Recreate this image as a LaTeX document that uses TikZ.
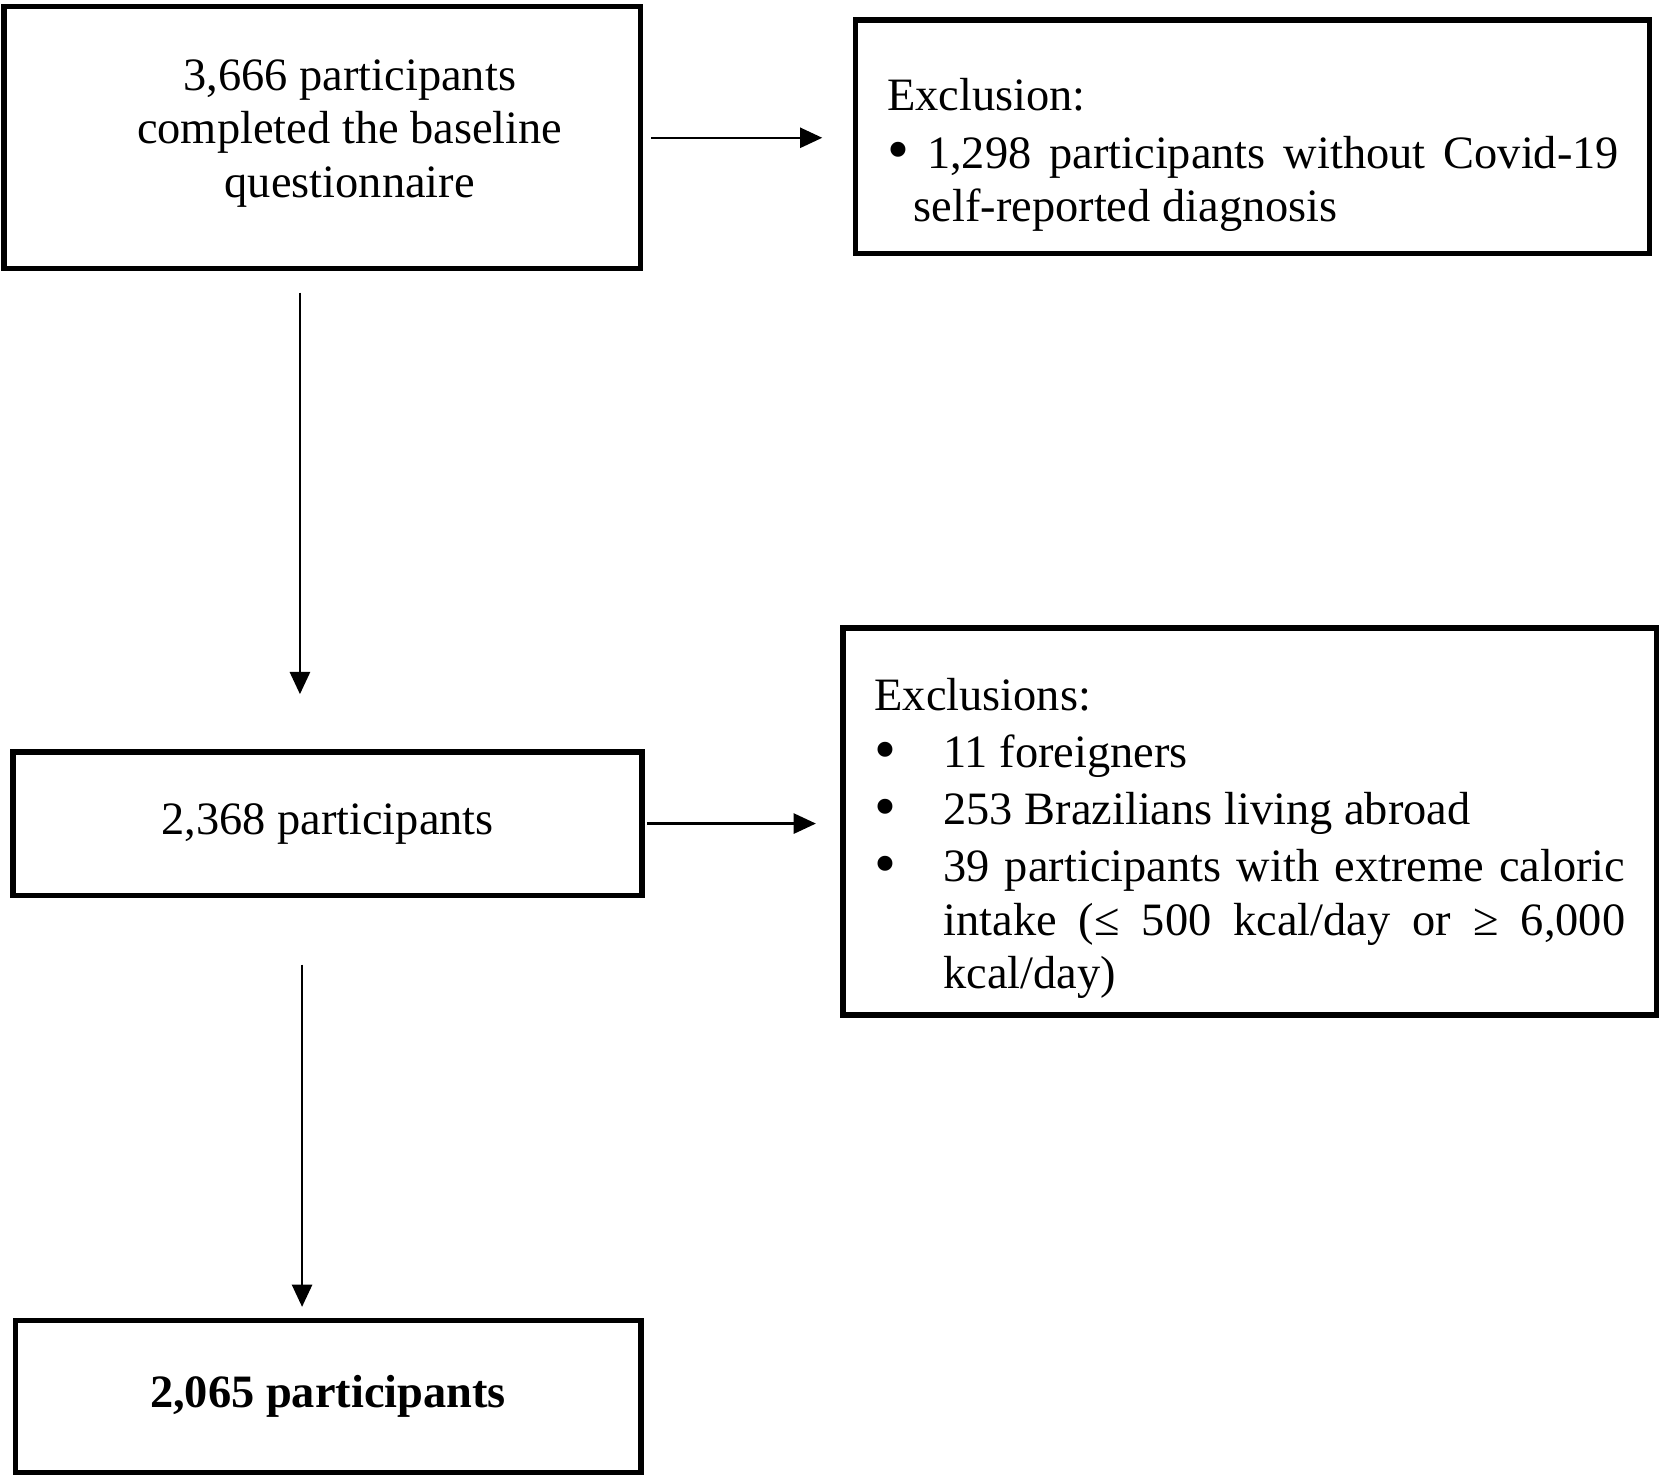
\documentclass[tikz,border=0pt]{standalone}
\usepackage{fontspec}
\setmainfont{Liberation Serif}
\usetikzlibrary{arrows.meta,positioning}

\tikzset{
	every node/.style={font=\fontsize{12.45}{14.23}\selectfont},
	box/.style={draw, line width=1.4pt, inner sep=0pt, outer sep=0pt},
	txt/.style={inner sep=0pt, outer sep=0pt},
	arrw/.style={line width=0.65pt, -{Triangle[length=0.21cm,width=0.19cm]}}
}

% a bullet, one bullet of an exclusion list, and the indent of its next lines
\def\bul{\raisebox{-0.06em}{\scalebox{1.35}{\textbullet}}}
\def\exclitem{\par\noindent\makebox[0.65cm][l]{\bul}}
\def\excltab{\hspace*{0.65cm}}

\begin{document}
\begin{tikzpicture}[x=0.01cm,y=-0.01cm]
\useasboundingbox (0,0) rectangle (1568,1395.35);

% left column
\node[box, minimum width=6cm, minimum height=2.47cm] (base) at (304,130) {};
\node[txt, align=center] (baset) at (330,126) {3,666 participants\\completed the baseline\\questionnaire};

\node[box, minimum width=5.93cm, minimum height=1.35cm] (mid) at (309,777) {2,368 participants};

\node[box, minimum width=5.9cm, minimum height=1.44cm] (final) at (309.5,1317.5) {\textbf{2,065 participants}};

% right column
\node[box, minimum width=7.49cm, minimum height=2.2cm] (excla) at (1181.5,129) {};
\node[txt, text width=6.9cm, align=justify, anchor=north west] (exclat) at (837,74)
	{\setlength{\parskip}{1.2pt}Exclusion:\par
	\noindent\bul{} 1,298 participants without Covid-19\linebreak
	\hspace*{0.25cm}self-reported diagnosis};

\node[box, minimum width=7.67cm, minimum height=3.65cm] (exclb) at (1179,775) {};
\node[txt, text width=7.08cm, align=justify, anchor=north west] (exclbt) at (825,640)
	{\setlength{\parskip}{1.1pt}Exclusions:
	\exclitem 11 foreigners
	\exclitem 253 Brazilians living abroad
	\exclitem 39 participants with extreme caloric\linebreak
	\excltab intake (≤ 500 kcal/day or ≥ 6,000\linebreak
	\excltab kcal/day)};

% arrows
\draw[arrw, shorten <=0.10cm, shorten >=0.31cm] (base.east) -- (base.east -| excla.west);
\draw[arrw, shorten <=0.045cm, shorten >=0.255cm] (mid.east) -- (mid.east -| exclb.west);
\draw[arrw, shorten <=0.225cm, shorten >=0.545cm] ([xshift=-0.21cm]base.south) -- ([xshift=-0.21cm]base.south |- mid.north);
\draw[arrw, shorten <=0.655cm, shorten >=0.125cm] ([xshift=-0.24cm]mid.south) -- ([xshift=-0.24cm]mid.south |- final.north);

\end{tikzpicture}
\end{document}
